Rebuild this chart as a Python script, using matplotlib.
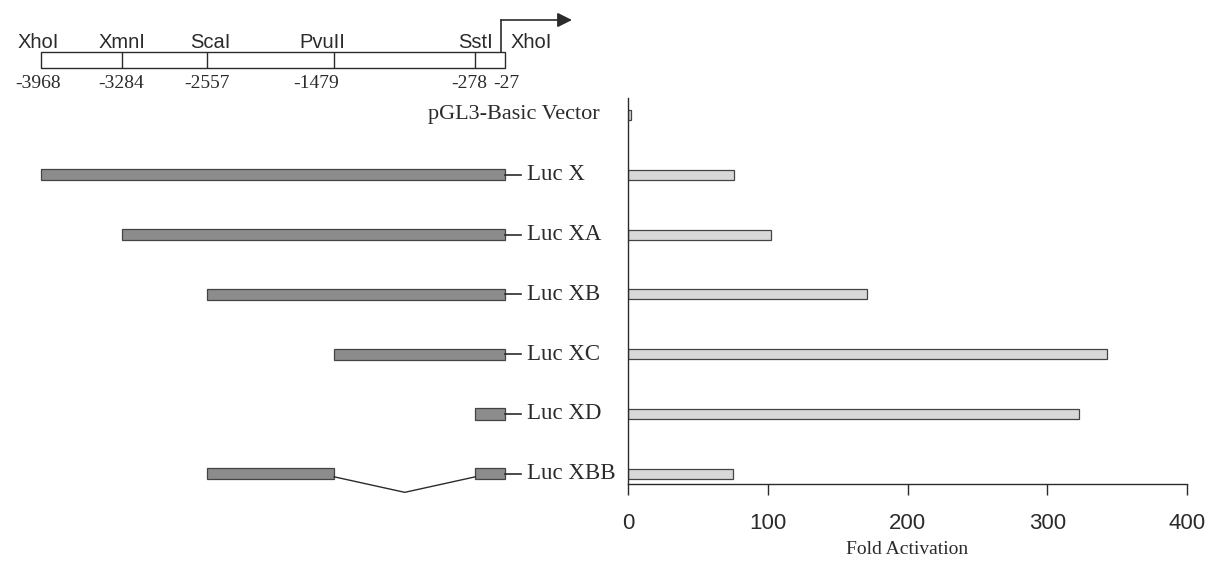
import matplotlib.pyplot as plt
from matplotlib.patches import Rectangle
import numpy as np

# Restriction map of the promoter (bp, relative to transcription start)
site_names = ['XhoI', 'XmnI', 'ScaI', 'PvuII', 'SstI', 'XhoI']
site_pos = [-3968, -3284, -2557, -1479, -278, -27]

# Reporter constructs and the promoter fragments they carry
constructs = ['pGL3-Basic Vector', 'Luc X', 'Luc XA', 'Luc XB', 'Luc XC', 'Luc XD', 'Luc XBB']
fragments = [
    [],
    [(-3968, -27)],
    [(-3284, -27)],
    [(-2557, -27)],
    [(-1479, -27)],
    [(-278, -27)],
    [(-2557, -1479), (-278, -27)],
]
fold_activation = [2, 76, 102, 171, 343, 323, 75]
x_ticks = [0, 100, 200, 300, 400]

W, H = 1212, 562
fig = plt.figure(figsize=(W / 100, H / 100), dpi=100)
ink = '#2b2b2b'
serif = 'Liberation Serif'
sans = 'Liberation Sans'

# pixel layout (figure pixels, top-down)
ax_top, ax_bot = 98, 484
bar_l, bar_r = 628, 1187
row0_px, pitch = 115, 59.8

# ---- bar chart ----
ax_bar = fig.add_axes([bar_l / W, 1 - ax_bot / H, (bar_r - bar_l) / W, (ax_bot - ax_top) / H])
rows = np.arange(len(constructs))
ax_bar.barh(rows, fold_activation, height=0.17, color='#d8d8d8', edgecolor='#444444', linewidth=0.9)
ax_bar.set_xlim(0, 400)
ax_bar.set_ylim(len(rows) - 1 + (ax_bot - (row0_px + 6 * pitch)) / pitch, (ax_top - row0_px) / pitch)
for s in ['top', 'right']:
    ax_bar.spines[s].set_visible(False)
for s in ['left', 'bottom']:
    ax_bar.spines[s].set_color(ink)
    ax_bar.spines[s].set_linewidth(1)
ax_bar.set_yticks([])
ax_bar.set_xticks(x_ticks)
ax_bar.tick_params(axis='x', direction='out', length=8, width=1, pad=13, labelsize=16, colors=ink)
for lab in ax_bar.get_xticklabels():
    lab.set_family(sans)
ax_bar.set_xlabel('Fold Activation', family=serif, fontsize=14, color=ink, labelpad=5)

# ---- construct diagram (x in bp) ----
left_w = 620
px0, px1 = 41, 505
scale = (px1 - px0) / (site_pos[-1] - site_pos[0])
xlim = (site_pos[0] - px0 / scale, site_pos[0] + (left_w - px0) / scale)

ax_left = fig.add_axes([0, 1 - ax_bot / H, left_w / W, (ax_bot - ax_top) / H], sharey=ax_bar)
ax_left.set_xlim(*xlim)
ax_left.axis('off')

for r, (name, frags) in enumerate(zip(constructs, fragments)):
    if not frags:
        ax_left.text(site_pos[0] + (600 - px0) / scale, r, name, family=serif, fontsize=16,
                     color=ink, ha='right', va='center')
        continue
    for s, e in frags:
        ax_left.barh(r, e - s, left=s, height=0.19, color='#8c8c8c', edgecolor='#444444', linewidth=0.9)
    # deleted region shown as a V
    for (s1, e1), (s2, e2) in zip(frags[:-1], frags[1:]):
        ax_left.plot([e1, (e1 + s2) / 2, s2], [r + 0.05, r + 0.31, r + 0.05], color=ink, lw=1, clip_on=False)
    end = frags[-1][1]
    ax_left.plot([end, end + 16 / scale], [r, r], color=ink, lw=1.2)
    ax_left.text(end + 22 / scale, r, name, family=serif, fontsize=16.5, color=ink, ha='left', va='center')

# ---- restriction map ----
ax_map = fig.add_axes([0, 1 - ax_top / H, left_w / W, ax_top / H])
ax_map.set_xlim(*xlim)
ax_map.set_ylim(ax_top, 0)
ax_map.axis('off')
rect_top, rect_bot = 52, 68
ax_map.add_patch(Rectangle((site_pos[0], rect_top), site_pos[-1] - site_pos[0], rect_bot - rect_top,
                           fill=False, edgecolor=ink, lw=1))
ax_map.vlines(site_pos[1:-1], rect_top, rect_bot, color=ink, lw=1)

name_dx = [-3, 0, 3, -12, 0, 6]
name_ha = ['center', 'center', 'center', 'center', 'center', 'left']
num_dx = [-3, 0, 0, -18, -6, 1]
for name, pos, ndx, ha, mdx in zip(site_names, site_pos, name_dx, name_ha, num_dx):
    ax_map.text(pos + ndx / scale, 48, name, family=sans, fontsize=14.5, color=ink, ha=ha, va='baseline')
    ax_map.text(pos + mdx / scale, 88, str(pos), family=serif, fontsize=14, color=ink,
                ha='center', va='baseline')

# transcription start arrow
arrow_x = site_pos[-1] - 4 / scale
ax_map.plot([arrow_x, arrow_x], [rect_top, 20], color=ink, lw=1.2)
ax_map.annotate('', xy=(site_pos[0] + (572 - px0) / scale, 20), xytext=(arrow_x, 20),
                arrowprops=dict(arrowstyle='-|>', color=ink, lw=1.2, mutation_scale=22,
                                shrinkA=0, shrinkB=0))

fig.savefig('out.png', dpi=100)
